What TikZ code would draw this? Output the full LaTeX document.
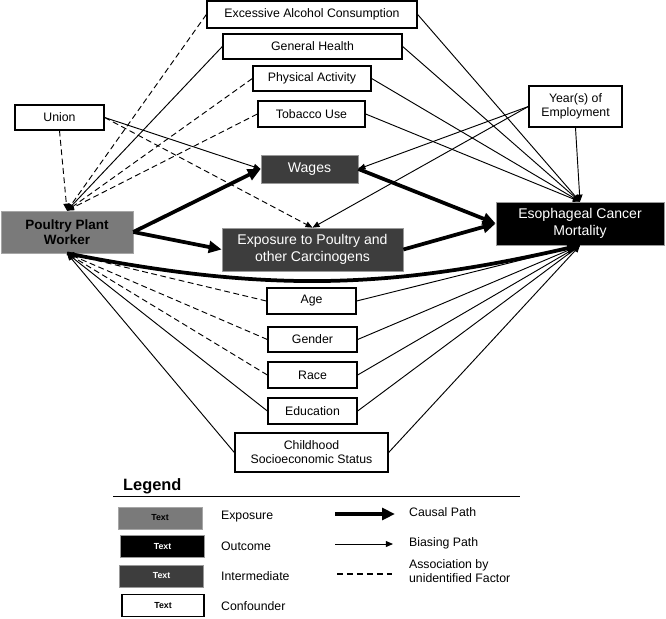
\documentclass[tikz,border=0pt]{standalone}
\usepackage{fontspec}
\setmainfont{Liberation Sans}
\usetikzlibrary{arrows.meta}
\tikzset{
  line join=round,
  box/.style={draw, line width=1.1pt, minimum height=0.78cm, align=center,
    font=\fontsize{10.5}{12}\selectfont},
  confounder/.style={box, fill=white},
  exposure/.style={box, draw=gray!70, line width=0.6pt, fill=black!52,
    font=\fontsize{11.5}{13}\selectfont\bfseries},
  intermediate/.style={box, draw=gray!80, line width=0.6pt, fill=black!76,
    text=white, font=\fontsize{12}{14}\selectfont},
  outcome/.style={box, draw=gray!80, line width=0.6pt, fill=black,
    text=white, font=\fontsize{12}{14}\selectfont},
  legendbox/.style={minimum width=2.52cm, minimum height=0.66cm,
    font=\fontsize{7.5}{9}\selectfont\bfseries},
  legendlabel/.style={anchor=west, align=left, font=\fontsize{10.5}{12}\selectfont},
  causal/.style={-{Triangle[length=11pt,width=10pt]}, line width=3.2pt},
  biasing/.style={-{Triangle[length=6pt,width=5pt]}, line width=0.8pt},
  assoc/.style={biasing, dash pattern=on 5pt off 3pt}
}
\begin{document}
\begin{tikzpicture}[x=0.03cm, y=-0.03cm]
  \useasboundingbox (0,0) rectangle (666,619);

  \node[confounder, minimum width=6.3cm, minimum height=0.81cm] (alcohol) at (312,14.5) {Excessive Alcohol Consumption};
  \node[confounder, minimum width=5.37cm, minimum height=0.75cm] (health) at (312.5,46.5) {General Health};
  \node[confounder, minimum width=3.54cm, minimum height=0.75cm] (activity) at (312,78.5) {Physical Activity};
  \node[confounder, minimum width=3.21cm] (tobacco) at (311.5,114) {Tobacco Use};
  \node[confounder, minimum width=2.67cm, minimum height=0.75cm] (union) at (59.5,117.5) {Union};
  \node[confounder, minimum width=2.79cm, minimum height=1.23cm] (years) at (575.5,106.5) {Year(s) of\\Employment};

  \node[intermediate, minimum width=2.91cm, minimum height=0.84cm] (wages) at (309.5,169) {Wages};
  \node[exposure, minimum width=3.96cm, minimum height=1.26cm] (worker) at (67,232) {Poultry Plant\\Worker};
  \node[intermediate, minimum width=5.43cm, minimum height=1.29cm] (carcin) at (312.5,249.5) {Exposure to Poultry and\\other Carcinogens};
  \node[outcome, minimum width=5.04cm, minimum height=1.29cm] (cancer) at (580,223.5) {Esophageal Cancer\\Mortality};

  \node[confounder, minimum width=2.67cm] (age) at (311.5,301) {Age};
  \node[confounder, minimum width=2.67cm, minimum height=0.75cm] (gender) at (312.5,339.5) {Gender};
  \node[confounder, minimum width=2.67cm] (race) at (312.5,375) {Race};
  \node[confounder, minimum width=2.67cm] (education) at (312.5,411) {Education};
  \node[confounder, minimum width=4.59cm, minimum height=1.17cm] (childhood) at (311.5,452.5) {Childhood\\Socioeconomic Status};

  \draw[assoc] (alcohol.west) -- (worker.north);
  \draw[biasing] (health.west) -- (worker.north);
  \draw[assoc] (activity.west) -- (worker.north);
  \draw[assoc] (tobacco.west) -- (worker.north);
  \draw[assoc] (union.south) -- (worker.north);

  \draw[biasing] (alcohol.east) -- (cancer.north);
  \draw[biasing] (health.east) -- (cancer.north);
  \draw[biasing] (activity.east) -- (cancer.north);
  \draw[biasing] (tobacco.east) -- (cancer.north);
  \draw[biasing] (years.south) -- (cancer.north);

  \draw[biasing] (union.east) -- (wages.west);
  \draw[assoc] (union.east) -- (carcin.north);
  \draw[biasing] (years.west) -- (wages.east);
  \draw[biasing] (years.west) -- (carcin.north);

  \draw[causal] (worker.east) -- (wages.west);
  \draw[causal] (worker.east) -- (carcin.west);
  \draw[causal] (wages.east) -- (cancer.west);
  \draw[causal] (carcin.east) -- (cancer.west);
  \draw[causal] (worker.south) to[bend right=12] (cancer.south);

  \draw[assoc] (age.west) -- (worker.south);
  \draw[assoc] (gender.west) -- (worker.south);
  \draw[assoc] (race.west) -- (worker.south);
  \draw[biasing] (education.west) -- (worker.south);
  \draw[biasing] (childhood.west) -- (worker.south);

  \draw[biasing] (age.east) -- (cancer.south);
  \draw[biasing] (gender.east) -- (cancer.south);
  \draw[biasing] (race.east) -- (cancer.south);
  \draw[biasing] (education.east) -- (cancer.south);
  \draw[biasing] (childhood.east) -- (cancer.south);

  \node[anchor=west, font=\fontsize{14}{16}\selectfont\bfseries] (legend) at (119,486) {Legend};
  \coordinate (ruleL) at (113,496);
  \coordinate (ruleR) at (520,496);
  \draw[line width=0.8pt] (ruleL) -- (ruleR);

  \node[legendbox, draw=gray!70, line width=0.6pt, fill=black!52] (lexp) at (160,518) {Text};
  \node[legendbox, draw=gray!80, line width=0.6pt, fill=black, text=white] (lout) at (162.5,546.5) {Text};
  \node[legendbox, draw=gray!80, line width=0.6pt, fill=black!76, text=white] (lmid) at (161.5,576) {Text};
  \node[legendbox, draw, line width=1.1pt, fill=white, minimum width=2.46cm] (lconf) at (163,605.5) {Text};

  \node[legendlabel] (texp) at (217,517) {Exposure};
  \node[legendlabel] (tout) at (217,546) {Outcome};
  \node[legendlabel] (tmid) at (217,576) {Intermediate};
  \node[legendlabel] (tconf) at (217,606) {Confounder};

  \coordinate (c1) at (335,514);
  \coordinate (c2) at (395,514);
  \coordinate (b1) at (335,544);
  \coordinate (b2) at (393,544);
  \coordinate (a1) at (337,574);
  \coordinate (a2) at (392,574);
  \draw[causal] (c1) -- (c2);
  \draw[biasing] (b1) -- (b2);
  \draw[line width=1.1pt, dash pattern=on 5pt off 3.5pt] (a1) -- (a2);

  \node[legendlabel] (tcausal) at (405,512) {Causal Path};
  \node[legendlabel] (tbias) at (405,543) {Biasing Path};
  \node[legendlabel] (tassoc) at (405,571) {Association by\\unidentified Factor};
\end{tikzpicture}
\end{document}
